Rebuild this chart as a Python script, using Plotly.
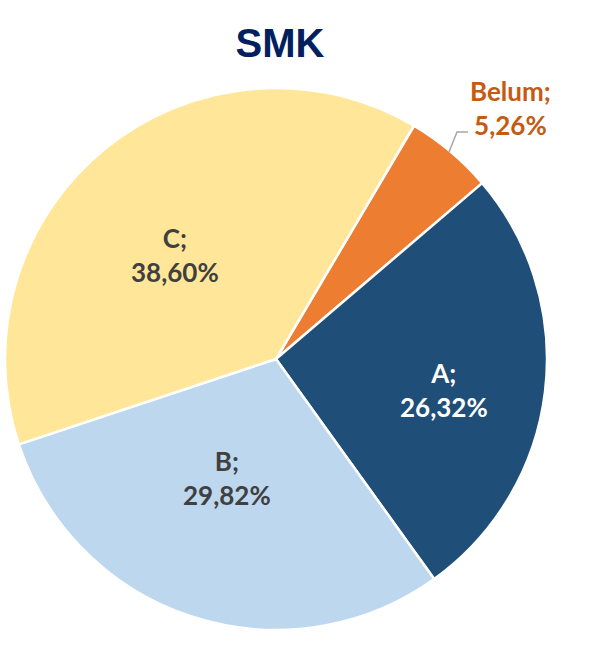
import plotly.graph_objects as go

labels = ["Belum", "A", "B", "C"]
values = [5.26, 26.32, 29.82, 38.60]
colors = ["#ED7D31", "#1F4E79", "#BDD7EE", "#FFE699"]
text_colors = ["#C55A11", "#FFFFFF", "#404040", "#404040"]
title_text = "SMK"

# label centre positions in pixels (layout only)
label_pos = [(510, 108), (444, 390), (227, 478), (175, 255)]

def fmt(lab, v):
    return f"{lab};<br>{v:.2f}".replace(".", ",") + "%"

texts = [fmt(l, v) for l, v in zip(labels, values)]

W, H = 591, 651
cx, cy, R = 276, 359, 271

fig = go.Figure(go.Pie(
    labels=labels,
    values=values,
    textinfo="none",
    marker=dict(colors=colors, line=dict(color="white", width=2.5)),
    sort=False,
    direction="clockwise",
    rotation=30.6,
    showlegend=False,
    hoverinfo="label+percent",
    domain=dict(x=[(cx - R) / W, (cx + R) / W], y=[1 - (cy + R) / H, 1 - (cy - R) / H]),
))

for t, c, (px, py) in zip(texts, text_colors, label_pos):
    fig.add_annotation(
        x=px / W, y=1 - py / H, xref="paper", yref="paper",
        text=f"<b>{t}</b>", showarrow=False,
        font=dict(family="Lato", size=26, color=c),
        xanchor="center", yanchor="middle",
    )

fig.add_shape(
    type="path", xref="paper", yref="paper",
    path=f"M {449/W},{1-152/H} L {457/W},{1-132/H} L {468/W},{1-132/H}",
    line=dict(color="#A6A6A6", width=1.5),
)

fig.update_layout(
    width=W, height=H,
    margin=dict(l=0, r=0, t=0, b=0),
    paper_bgcolor="white",
    title=dict(text=f"<b>{title_text}</b>", x=280 / W, xanchor="center",
               y=1 - 43 / H, yanchor="middle",
               font=dict(family="Liberation Sans", size=40, color="#002060")),
)

fig.write_html("out.html", config={"displayModeBar": False},
               post_script="document.body.style.margin='0';")
